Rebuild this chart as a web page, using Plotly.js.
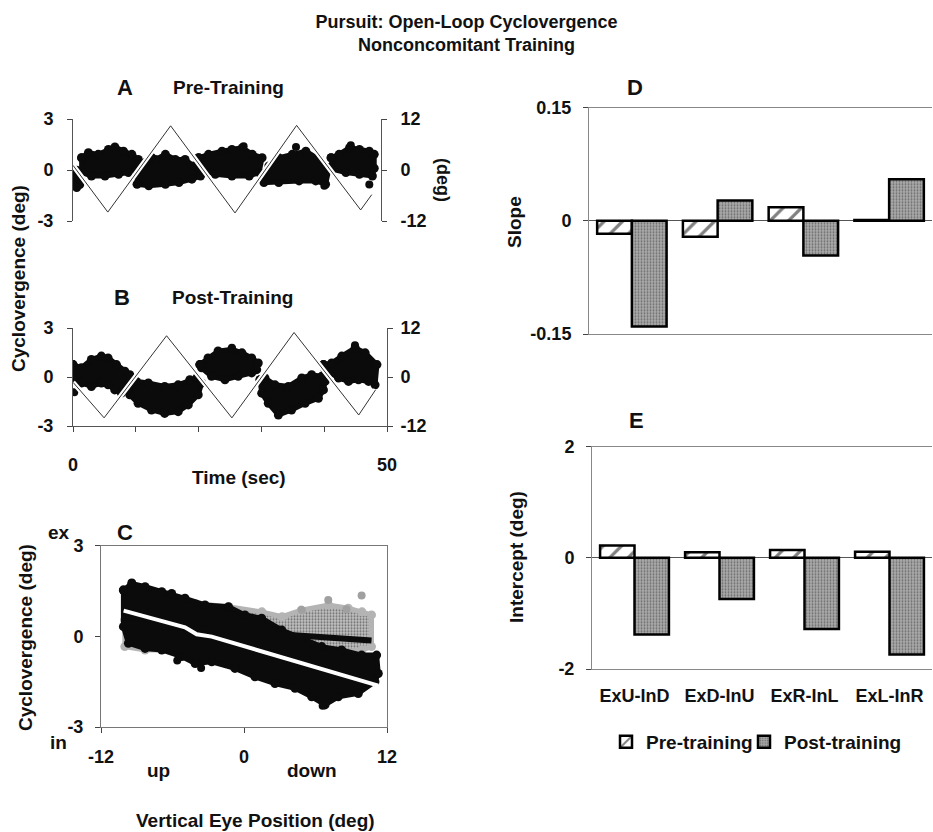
<!DOCTYPE html>
<html><head><meta charset="utf-8">
<script src="https://cdn.plot.ly/plotly-3.0.1.min.js"></script>
<style>html,body{margin:0;padding:0;background:#fff}#chart{width:933px;height:832px}</style>
</head><body><div id="chart"></div>
<script>
// ---------- Panel A (Pre-Training): target vertical position (deg, right axis) ----------
const aTriT = [0, 5.65, 15.85, 26.3, 36.3, 46.7, 48.5];
const aTriV = [1.1, -9.9, 10.4, -10.1, 10.5, -9.4, -5.8];
// Cyclovergence point-cloud envelopes, [time s, deg]
const aSeg1Top = [[0,-0.06],[0.6,-0.02],[1.1,-0.1]];
const aSeg1Bot = [[0,-0.9],[0.6,-1.03],[1.1,-0.85]];
const aSeg2Top = [[1.4,0.72],[2.5,1.02],[4.1,0.92],[5.75,1.21],[6.8,1.35],[8.2,1.11],[9.55,0.92],[10.6,0.62]];
const aSeg2Bot = [[1.4,-0.15],[3.0,-0.35],[5.2,-0.35],[7.4,-0.25],[9.0,-0.15],[10.4,0.14]];
const aSeg3Top = [[10.4,-0.06],[11.7,0.43],[13.4,0.62],[15.0,0.92],[16.6,0.62],[18.2,0.62],[19.6,0.24],[20.7,-0.25]];
const aSeg3Bot = [[10.4,-0.84],[12.3,-0.93],[15.0,-0.84],[17.2,-0.74],[19.3,-0.54],[20.7,-0.35]];
const aSeg4Top = [[20.4,0.72],[22.0,0.92],[24.2,1.11],[25.8,1.21],[27.5,1.31],[29.1,0.92],[30.7,0.72]];
const aSeg4Bot = [[20.7,0.04],[23.1,-0.25],[25.8,-0.35],[28.6,-0.35],[30.2,-0.15]];
const aSeg5Top = [[30.7,-0.25],[31.8,0.24],[33.4,0.72],[35.6,0.92],[37.8,1.11],[40.0,0.62],[41.6,0.14]];
const aSeg5Bot = [[31.0,-0.74],[33.4,-0.74],[36.7,-0.64],[39.4,-0.64],[41.0,-0.84]];
const aSeg6Top = [[41.9,0.72],[43.2,0.92],[44.9,1.31],[46.5,1.21],[48.1,1.11],[48.9,0.92]];
const aSeg6Bot = [[42.1,0.04],[44.3,-0.15],[46.5,-0.25],[48.6,-0.35],[48.9,0.1]];
const aOutliers = [[27.7,1.4],[36.2,1.35],[40.8,-0.93],[48.1,-0.85],[45.1,1.46],[12.8,0.75]];

// ---------- Panel B (Post-Training) ----------
const bTriT = [0, 4.95, 14.9, 25.3, 35.2, 45.5, 48.2];
const bTriV = [-1.3, -10.0, 10.1, -10.0, 10.9, -9.3, -3.1];
const bSeg1Top = [[0,0.76],[1.33,0.56],[2.93,1.07],[4.52,1.28],[5.59,1.17],[6.92,0.76],[8.25,0.35],[9.04,0.14]];
const bSeg1Bot = [[0,-0.06],[1.33,-0.37],[2.93,-0.58],[4.52,-0.37],[5.59,-0.48],[6.65,-0.79],[7.71,-0.99],[8.6,-0.6]];
const bSeg2Top = [[8.78,-0.79],[10.1,-0.27],[12.0,-0.37],[14.6,-0.58],[16.75,-0.48],[18.6,-0.17],[19.7,-0.06],[20.5,-0.37]];
const bSeg2Bot = [[9.04,-1.09],[10.37,-1.61],[12.5,-2.02],[14.6,-2.23],[16.75,-2.12],[18.35,-1.71],[19.94,-1.09]];
const bSeg3Top = [[20.2,0.76],[21.5,1.17],[23.1,1.59],[25.3,1.69],[26.9,1.48],[28.45,1.17],[29.5,0.86]];
const bSeg3Bot = [[20.47,0.56],[22.07,0.04],[24.2,-0.17],[26.3,0.04],[28.45,0.25],[29.25,0.45]];
const bSeg4Top = [[29.78,-0.17],[30.57,-0.06],[32.17,-0.48],[34.29,-0.58],[36.43,-0.06],[38.0,0.14],[39.6,0.04],[40.14,-0.27]];
const bSeg4Bot = [[30.05,-0.99],[31.1,-1.61],[32.7,-2.33],[34.8,-2.02],[36.96,-1.61],[39.08,-1.3],[39.88,-0.79]];
const bSeg5Top = [[39.88,0.76],[41.2,0.86],[42.8,1.28],[44.93,1.79],[46.52,1.48],[48.4,0.76]];
const bSeg5Bot = [[40.14,0.45],[42.27,-0.06],[43.87,-0.27],[45.46,-0.17],[47.06,-0.27],[48.1,-0.48]];
const bOutliers = [[0.2,-0.93],[25.3,1.79],[44.9,1.95]];

// ---------- Panel C: cyclovergence vs vertical eye position ----------
const cPreTop = [[-10.0,0.54],[-6.9,1.2],[-4.1,1.09],[-1.3,0.98],[1.5,0.81],[3.2,0.65],[4.8,0.87],[7.1,1.04],[8.75,0.93],[9.9,0.81],[10.7,0.71]];
const cPreBot = [[-10.0,-0.34],[-8.3,-0.45],[-4.1,-0.45],[0.1,-0.56],[4.3,-0.56],[7.1,-0.56],[9.9,-0.45],[10.7,-0.34]];
const cPreOutliers = [[7.07,1.2],[9.87,1.35],[4.84,0.87],[8.6,0.9]];
const cPostTop = [[-10.12,1.53],[-9.42,1.75],[-8.3,1.64],[-6.9,1.48],[-6.07,1.42],[-4.95,1.26],[-3.27,1.04],[-1.3,0.98],[0.08,0.71],[1.48,0.6],[3.16,0.21],[4.84,-0.07],[6.52,-0.34],[8.19,-0.45],[9.87,-0.62],[11.13,-0.62]];
const cPostBot = [[-10.12,0.32],[-9.7,-0.23],[-8.3,-0.4],[-6.9,-0.45],[-5.23,-0.67],[-4.1,-0.9],[-2.71,-0.84],[-0.76,-1.06],[0.92,-1.34],[2.6,-1.56],[4.28,-1.72],[5.68,-2.0],[6.8,-2.27],[7.91,-2.0],[9.59,-1.89],[10.99,-1.5],[11.27,-1.23]];
const cPostOutliers = [[-9.42,1.78],[6.6,-2.3],[-3.6,-1.05],[-5.6,-0.8]];
const cPreFitX = [-10.2, 10.7];
const cPreFitY = [0.43, -0.14];
const cPostFitX = [-10.1, -4.95, -3.97, -2.71, 11.27];
const cPostFitY = [0.85, 0.30, 0.07, -0.01, -1.63];

// ---------- Panels D, E: bars ----------
const categories = ['ExU-InD', 'ExD-InU', 'ExR-InL', 'ExL-InR'];
const slopePre = [-0.017, -0.021, 0.018, 0.001];
const slopePost = [-0.140, 0.027, -0.046, 0.055];
const interceptPre = [0.22, 0.10, 0.14, 0.11];
const interceptPost = [-1.38, -0.74, -1.28, -1.74];

// ---------- helpers ----------
const W = 933, H = 832;
const fx = px => px / W;
const fy = py => 1 - py / H;
const FONT = 'Liberation Sans, Arial, Helvetica, sans-serif';
const BLACK = '#0b0b0b';

const traces = [];
function cloud(top, bot, xa, ya, color, pattern) {
  const pts = top.concat(bot.slice().reverse());
  pts.push(pts[0]);
  const t = {
    type: 'scatter', mode: 'lines+markers',
    x: pts.map(p => p[0]), y: pts.map(p => p[1]),
    fill: 'toself', fillcolor: color,
    line: {color: color, width: 5},
    marker: {size: 9, color: color},
    xaxis: xa, yaxis: ya, hoverinfo: 'skip', showlegend: false
  };
  if (pattern) t.fillpattern = pattern;
  traces.push(t);
}
function dots(list, xa, ya, color) {
  traces.push({type: 'scatter', mode: 'markers', x: list.map(p => p[0]), y: list.map(p => p[1]),
    marker: {size: 8, color: color}, xaxis: xa, yaxis: ya, hoverinfo: 'skip', showlegend: false});
}
function tri(tx, vy, xa, ya) {
  traces.push({type: 'scatter', mode: 'lines', x: tx, y: vy, line: {color: '#fff', width: 5},
    xaxis: xa, yaxis: ya, hoverinfo: 'skip', showlegend: false});
  traces.push({type: 'scatter', mode: 'lines', x: tx, y: vy, line: {color: '#333', width: 1},
    xaxis: xa, yaxis: ya, hoverinfo: 'skip', showlegend: false});
}

// A
[[aSeg1Top,aSeg1Bot],[aSeg2Top,aSeg2Bot],[aSeg3Top,aSeg3Bot],[aSeg4Top,aSeg4Bot],[aSeg5Top,aSeg5Bot],[aSeg6Top,aSeg6Bot]]
  .forEach(s => cloud(s[0], s[1], 'x', 'y', BLACK));
dots(aOutliers, 'x', 'y', BLACK);
tri(aTriT, aTriV, 'x', 'y2');
// B
[[bSeg1Top,bSeg1Bot],[bSeg2Top,bSeg2Bot],[bSeg3Top,bSeg3Bot],[bSeg4Top,bSeg4Bot],[bSeg5Top,bSeg5Bot]]
  .forEach(s => cloud(s[0], s[1], 'x2', 'y3', BLACK));
dots(bOutliers, 'x2', 'y3', BLACK);
tri(bTriT, bTriV, 'x2', 'y4');
// C
cloud(cPreTop, cPreBot, 'x3', 'y5', '#b4b4b4', {shape: '.', fgcolor: '#6a6a6a', bgcolor: '#c4c4c4', size: 3, solidity: 0.4});
dots(cPreOutliers, 'x3', 'y5', '#a0a0a0');
cloud(cPostTop, cPostBot, 'x3', 'y5', BLACK);
dots(cPostOutliers, 'x3', 'y5', BLACK);
traces.push({type: 'scatter', mode: 'lines', x: cPreFitX, y: cPreFitY, line: {color: BLACK, width: 6},
  xaxis: 'x3', yaxis: 'y5', hoverinfo: 'skip', showlegend: false});
traces.push({type: 'scatter', mode: 'lines', x: cPostFitX, y: cPostFitY, line: {color: '#fff', width: 4},
  xaxis: 'x3', yaxis: 'y5', hoverinfo: 'skip', showlegend: false});

// D & E bars
const preMarker = {color: '#fff', line: {color: '#000', width: 2.5},
  pattern: {shape: '/', fgcolor: '#808080', bgcolor: '#fff', size: 13, solidity: 0.25}};
const postMarker = {color: '#999', line: {color: '#000', width: 2.5},
  pattern: {shape: '.', fgcolor: '#6a6a6a', bgcolor: '#aaaaaa', size: 3, solidity: 0.3}};
traces.push({type: 'bar', name: 'Pre-training', x: categories, y: slopePre, marker: preMarker,
  xaxis: 'x4', yaxis: 'y6', showlegend: false, hoverinfo: 'skip'});
traces.push({type: 'bar', name: 'Post-training', x: categories, y: slopePost, marker: postMarker,
  xaxis: 'x4', yaxis: 'y6', showlegend: false, hoverinfo: 'skip'});
traces.push({type: 'bar', name: 'Pre-training', x: categories, y: interceptPre, marker: preMarker,
  xaxis: 'x5', yaxis: 'y7', showlegend: true, legend: 'legend', hoverinfo: 'skip'});
traces.push({type: 'bar', name: 'Post-training', x: categories, y: interceptPost, marker: postMarker,
  xaxis: 'x5', yaxis: 'y7', showlegend: true, legend: 'legend2', hoverinfo: 'skip'});

// ---------- layout ----------
const base = {showgrid: false, zeroline: false, showline: true, linecolor: '#555', linewidth: 1,
  ticks: 'outside', ticklen: 5, tickwidth: 1, tickcolor: '#444', fixedrange: true,
  tickfont: {family: FONT, size: 18, color: '#111', weight: 'bold'}};
const ax = o => Object.assign({}, base, o);

const ann = (text, px, py, size, extra) => Object.assign({
  text: text, x: fx(px), y: fy(py), xref: 'paper', yref: 'paper', showarrow: false,
  xanchor: 'center', yanchor: 'middle',
  font: {family: FONT, size: size || 19, color: '#111', weight: 'bold'}}, extra || {});

const legendFont = {family: FONT, size: 19, color: '#111', weight: 'bold'};

const layout = {
  width: W, height: H,
  margin: {l: 0, r: 0, t: 0, b: 0},
  paper_bgcolor: '#fff', plot_bgcolor: 'rgba(0,0,0,0)',
  font: {family: FONT, size: 18, color: '#111', weight: 'bold'},
  title: {text: 'Pursuit: Open-Loop Cyclovergence<br>Nonconcomitant Training',
    x: 0.5, xanchor: 'center', y: fy(28), yanchor: 'middle',
    font: {family: FONT, size: 18, color: '#111', weight: 'bold'}},
  showlegend: true,
  legend: {orientation: 'h', x: fx(606), xanchor: 'left', y: fy(742), yanchor: 'middle',
    font: legendFont, bgcolor: 'rgba(0,0,0,0)'},
  legend2: {orientation: 'h', x: fx(744), xanchor: 'left', y: fy(742), yanchor: 'middle',
    font: legendFont, bgcolor: 'rgba(0,0,0,0)'},
  barmode: 'group', bargap: 0.19, bargroupgap: 0,
  // A
  xaxis: ax({domain: [fx(73), fx(381)], range: [0, 50], anchor: 'y', visible: false}),
  yaxis: ax({domain: [fy(221), fy(119)], range: [-3, 3], anchor: 'x',
    tickvals: [-3, 0, 3], ticktext: ['-3', '0', '3'], ticklabelstandoff: 10}),
  yaxis2: ax({overlaying: 'y', side: 'right', anchor: 'x', range: [-12, 12],
    tickvals: [-12, 0, 12], ticktext: ['-12', '0', '12'], ticklabelstandoff: 10}),
  // B
  xaxis2: ax({domain: [fx(73), fx(387)], range: [0, 50], anchor: 'y3',
    tickvals: [0, 10, 20, 30, 40, 50], ticktext: ['0', '', '', '', '', '50'], ticklabelstandoff: 17}),
  yaxis3: ax({domain: [fy(426), fy(328)], range: [-3, 3], anchor: 'x2',
    tickvals: [-3, 0, 3], ticktext: ['-3', '0', '3'], ticklabelstandoff: 10}),
  yaxis4: ax({overlaying: 'y3', side: 'right', anchor: 'x2', range: [-12, 12],
    tickvals: [-12, 0, 12], ticktext: ['-12', '0', '12'], ticklabelstandoff: 4}),
  // C
  xaxis3: ax({domain: [fx(101), fx(387)], range: [-12, 12], anchor: 'y5', mirror: true,
    tickvals: [-12, 0, 12], ticktext: ['-12', '0', '12'], ticklabelstandoff: 8, linecolor: '#777'}),
  yaxis5: ax({domain: [fy(727), fy(545.7)], range: [-3, 3], anchor: 'x3', mirror: true,
    tickvals: [-3, 0, 3], ticktext: ['-3', '0', '3'], ticklabelstandoff: 8, linecolor: '#777'}),
  // D
  xaxis4: ax({domain: [fx(589), fx(932)], type: 'category', anchor: 'y6', mirror: true,
    showticklabels: false, ticks: '', linecolor: '#888'}),
  yaxis6: ax({domain: [fy(334), fy(107.7)], range: [-0.15, 0.15], anchor: 'x4',
    tickvals: [-0.15, 0, 0.15], ticktext: ['-0.15', '0', '0.15'], ticklabelstandoff: 8,
    zeroline: true, zerolinecolor: '#555', zerolinewidth: 1, linecolor: '#888'}),
  // E
  xaxis5: ax({domain: [fx(592), fx(932)], type: 'category', anchor: 'y7', mirror: true,
    ticks: '', ticklabelstandoff: 10, linecolor: '#888'}),
  yaxis7: ax({domain: [fy(669), fy(446.7)], range: [-2, 2], anchor: 'x5',
    tickvals: [-2, 0, 2], ticktext: ['-2', '0', '2'], ticklabelstandoff: 8,
    zeroline: true, zerolinecolor: '#555', zerolinewidth: 1, linecolor: '#888'}),
  annotations: [
    ann('A', 125, 88, 22), ann('Pre-Training', 228, 88),
    ann('B', 122, 298, 22), ann('Post-Training', 232, 298),
    ann('C', 125, 532, 22), ann('D', 635, 88, 22), ann('E', 636, 420, 22),
    ann('Cyclovergence (deg)', 18, 279, 19, {textangle: -90}),
    ann('(deg)', 443, 180, 18, {textangle: 90}),
    ann('Time (sec)', 239, 477),
    ann('ex', 59, 532), ann('in', 58, 742), ann('up', 158, 770), ann('down', 312, 770),
    ann('Cyclovergence (deg)', 25, 638, 19, {textangle: -90}),
    ann('Vertical Eye Position (deg)', 255, 820),
    ann('Slope', 514, 222, 19, {textangle: -90}),
    ann('Intercept (deg)', 516, 557, 19, {textangle: -90})
  ]
};

Plotly.newPlot('chart', traces, layout, {displayModeBar: false, staticPlot: true});
</script></body></html>
